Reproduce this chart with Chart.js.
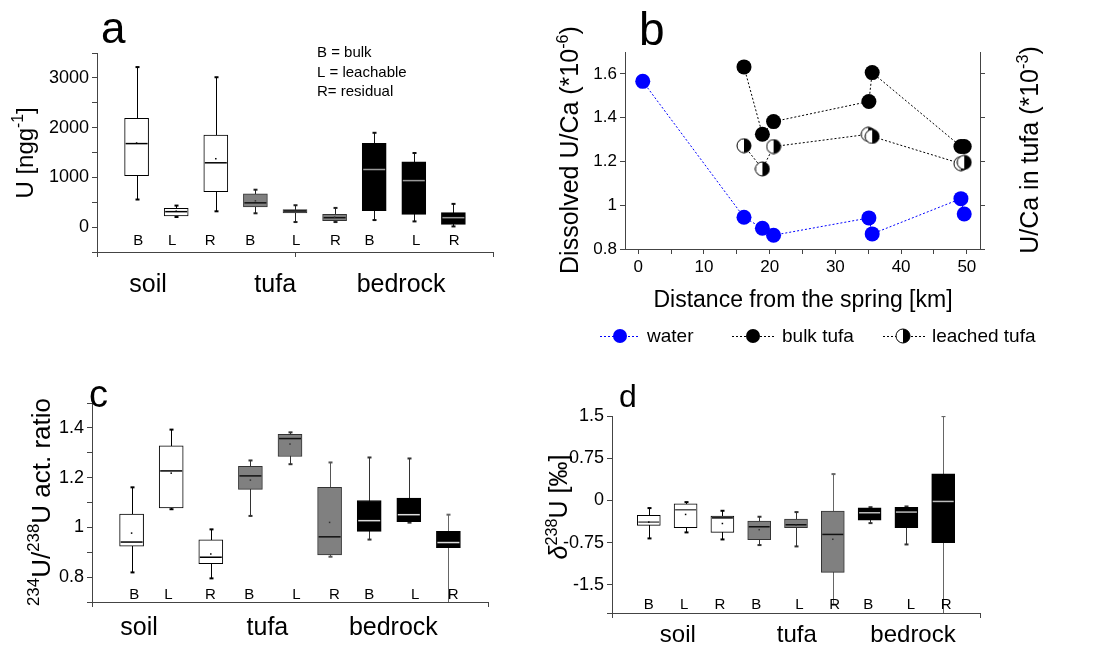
<!DOCTYPE html>
<html><head><meta charset="utf-8">
<script src="https://cdn.jsdelivr.net/npm/chart.js@4.4.1/dist/chart.umd.min.js"></script>
<style>
body{margin:0;background:#fff;width:1102px;height:645px;position:relative;overflow:hidden}
canvas{position:absolute}
</style></head><body>
<canvas id="ca" width="520" height="320" style="left:0px;top:0px"></canvas>
<canvas id="cb" width="582" height="360" style="left:520px;top:0px"></canvas>
<canvas id="cc" width="520" height="285" style="left:0px;top:360px"></canvas>
<canvas id="cd" width="562" height="275" style="left:540px;top:370px"></canvas>
<script>
// ---------------- DATA ----------------
const categories = ['B','L','R','B','L','R','B','L','R'];
const groups = ['soil','tufa','bedrock'];
const boxPos = [1,2,3,4,5,6,7,8,9];

// panel a: U [ng/g]
const aMin  = [555, 203, 318, 278, 102, 102, 142, 115, 14];
const aQ1   = [1036, 223, 711, 406, 284, 129, 332, 257, 54];
const aMed  = [1679, 311, 1293, 488, 325, 190, 1158, 935, 190];
const aQ3   = [2187, 379, 1849, 670, 352, 257, 1686, 1314, 291];
const aMax  = [3217, 433, 3013, 752, 440, 386, 1896, 1490, 467];
const aMean = [1690, 320, 1375, 528, 318, 200, null, null, null];
const aYTicks = [-500, 0, 500, 1000, 1500, 2000, 2500, 3000, 3500];

// panel c: 234U/238U activity ratio
const cMin  = [0.819, 1.073, 0.795, 1.046, 1.254, 0.882, 0.951, 1.019, 0.65];
const cQ1   = [0.924, 1.078, 0.854, 1.153, 1.285, 0.889, 0.984, 1.023, 0.918];
const cMed  = [0.941, 1.227, 0.880, 1.207, 1.357, 0.962, 1.027, 1.051, 0.939];
const cQ3   = [1.053, 1.328, 0.950, 1.245, 1.374, 1.161, 1.108, 1.118, 0.984];
const cMax  = [1.161, 1.393, 0.992, 1.269, 1.382, 1.261, 1.281, 1.277, 1.051];
const cMean = [0.977, 1.218, 0.893, 1.190, 1.335, 1.020, null, null, null];
const cYTicks = [0.7, 0.8, 0.9, 1.0, 1.1, 1.2, 1.3, 1.4, 1.5];

// panel d: delta238U [permil]
const dMin  = [-0.675, -0.568, -0.693, -0.793, -0.817, -1.85, -0.403, -0.782, -2.1];
const dQ1   = [-0.444, -0.486, -0.568, -0.699, -0.486, -1.279, -0.349, -0.486, -0.752];
const dMed  = [-0.385, -0.166, -0.310, -0.468, -0.432, -0.604, -0.219, -0.207, -0.018];
const dQ3   = [-0.266, -0.059, -0.280, -0.367, -0.332, -0.189, -0.130, -0.124, 0.474];
const dMax  = [-0.136, -0.030, -0.184, -0.290, -0.207, 0.468, -0.120, -0.107, 1.498];
const dMean = [-0.385, -0.249, -0.410, -0.520, -0.440, -0.690, null, null, null];
const dYTicks = [-2, -1.875, -1.5, -1.125, -0.75, -0.375, 0, 0.375, 0.75, 1.125, 1.5];

// panel b: U/Ca vs distance
const waterDist = [0.7, 16.1, 18.9, 20.6, 35.1, 35.6, 49.1, 49.6];
const waterUCa  = [1.566, 0.945, 0.895, 0.863, 0.942, 0.869, 1.030, 0.960];
const bulkDist  = [16.1, 18.9, 20.6, 35.1, 35.6, 49.1, 49.6];
const bulkUCa   = [0.366, 0.212, 0.241, 0.287, 0.353, 0.184, 0.184];
const leachDist = [16.1, 18.9, 20.6, 35.0, 35.6, 49.1, 49.6];
const leachUCa  = [0.186, 0.133, 0.184, 0.212, 0.207, 0.145, 0.148];
const bXTicks  = [0, 5, 10, 15, 20, 25, 30, 35, 40, 45, 50];
const bYTicks  = [0.8, 0.9, 1.0, 1.1, 1.2, 1.3, 1.4, 1.5, 1.6, 1.7];
const bY2Ticks = [-0.05, 0, 0.05, 0.1, 0.15, 0.2, 0.25, 0.3, 0.35, 0.4];

// ---------------- STYLE / LAYOUT ----------------
const FONT = "'Liberation Sans', Arial, Helvetica, sans-serif";
Chart.defaults.font.family = FONT;
Chart.defaults.color = '#000';
const AX = '#444';
const boxFill   = ['#fff','#fff','#fff','#808080','#808080','#808080','#000','#000','#000'];
const boxBorder = ['#000','#000','#000','#333','#333','#333','#000','#000','#000'];

function fmt(v){ return String(Math.round(v*1000)/1000); }
function isMajor(v, m){ const r = v/m; return Math.abs(r-Math.round(r)) < 1e-6; }

function drawRich(ctx, runs, x, y, size, rot, align){
  ctx.save(); ctx.translate(x, y); if (rot) ctx.rotate(rot);
  let total = 0;
  const m = runs.map(r => {
    const s = r.sup ? size*0.65 : size;
    const f = (r.italic ? 'italic ' : '') + s + 'px ' + FONT;
    ctx.font = f; const w = ctx.measureText(r.t).width; total += w;
    return {f, w, dy: r.sup ? -size*0.42 : 0};
  });
  let cx = align === 'center' ? -total/2 : (align === 'right' ? -total : 0);
  ctx.textAlign = 'left'; ctx.textBaseline = 'alphabetic'; ctx.fillStyle = '#000';
  runs.forEach((r,i) => { ctx.font = m[i].f; ctx.fillText(r.t, cx, m[i].dy); cx += m[i].w; });
  ctx.restore();
}

function yAxis(ticksArr, major, width, fontSize, min, max){
  return {
    type:'linear', min, max,
    border:{display:true, color:AX, width:1},
    grid:{drawOnChartArea:false, drawTicks:true, tickLength:5, color:AX},
    afterBuildTicks: s => { s.ticks = ticksArr.map(v => ({value:v})); },
    afterFit: s => { s.width = width; },
    ticks:{font:{size:fontSize}, padding:3, color:'#000',
      callback: v => isMajor(v, major) ? fmt(v) : ''}
  };
}
function xAxisBox(height, ticksArr){
  return {
    type:'linear', min:0, max:10, offset:false,
    border:{display:true, color:AX, width:1},
    grid:{drawOnChartArea:false, drawTicks:true, tickLength:5, color:AX, offset:false},
    afterBuildTicks: s => { s.ticks = ticksArr.map(v => ({value:v})); },
    afterFit: s => { s.height = height; },
    ticks:{display:false}
  };
}

function boxPlugin(st){
  return {
    id:'boxwhisk',
    beforeDatasetsDraw(chart){
      const {ctx, chartArea:a, scales:{x, y}} = chart;
      ctx.save(); ctx.beginPath(); ctx.rect(a.left, a.top, a.right-a.left, a.bottom-a.top); ctx.clip();
      boxPos.forEach((p,i) => {
        const px = Math.round(x.getPixelForValue(p)) + 0.5;
        ctx.strokeStyle = st.wh[i]; ctx.lineWidth = 1;
        ctx.beginPath(); ctx.moveTo(px, y.getPixelForValue(st.max[i])); ctx.lineTo(px, y.getPixelForValue(st.min[i])); ctx.stroke();
        ctx.lineWidth = 2;
        [st.max[i], st.min[i]].forEach(v => {
          const py = y.getPixelForValue(v);
          ctx.beginPath(); ctx.moveTo(px-2, py); ctx.lineTo(px+2, py); ctx.stroke();
        });
      });
      ctx.restore();
    },
    afterDatasetsDraw(chart){
      const {ctx, chartArea:a, scales:{x, y}} = chart;
      ctx.save(); ctx.beginPath(); ctx.rect(a.left, a.top, a.right-a.left, a.bottom-a.top); ctx.clip();
      const hw = st.bw/2 - 1;
      boxPos.forEach((p,i) => {
        const px = x.getPixelForValue(p);
        const py = y.getPixelForValue(st.med[i]);
        ctx.strokeStyle = st.medC[i]; ctx.lineWidth = 1.5;
        ctx.beginPath(); ctx.moveTo(px-hw, py); ctx.lineTo(px+hw, py); ctx.stroke();
        if (st.mean[i] !== null) {
          ctx.fillStyle = i < 3 ? '#000' : '#333';
          ctx.fillRect(px-0.75, y.getPixelForValue(st.mean[i])-0.75, 1.5, 1.5);
        }
      });
      ctx.restore();
    }
  };
}

function textPlugin(fn){ return {id:'texts', afterDraw(chart){ const ctx = chart.ctx; ctx.save(); fn(ctx, chart); ctx.restore(); }}; }

function boxDataset(q1, q3, bw){
  return {
    data: boxPos.map((p,i) => ({x:p, y:[q1[i], q3[i]]})),
    backgroundColor: boxFill, borderColor: boxBorder, borderWidth:1, borderSkipped:false,
    barThickness: bw
  };
}

function drawCatLabels(ctx, chart, pos, yBase, groupPos, gBase, gSize){
  const x = chart.scales.x;
  ctx.fillStyle = '#000'; ctx.textAlign = 'center'; ctx.textBaseline = 'alphabetic';
  ctx.font = '15px ' + FONT;
  categories.forEach((c,i) => ctx.fillText(c, x.getPixelForValue(pos[i]), yBase));
  ctx.font = gSize + 'px ' + FONT;
  groups.forEach((g,i) => ctx.fillText(g, x.getPixelForValue(groupPos[i]), gBase));
}

const baseOpts = {responsive:false, animation:false, devicePixelRatio:1,
  plugins:{legend:{display:false}, tooltip:{enabled:false}}};

// ---------------- PANEL A ----------------
new Chart(document.getElementById('ca'), {
  type:'bar',
  data:{datasets:[boxDataset(aQ1, aQ3, 24)]},
  options:Object.assign({}, baseOpts, {
    layout:{padding:{top:53, right:27, left:0, bottom:0}},
    scales:{x:xAxisBox(68, [0,5,10]), y:yAxis(aYTicks, 1000, 97, 18, -500, 3500)}
  }),
  plugins:[
    boxPlugin({min:aMin, max:aMax, med:aMed, mean:aMean, bw:24,
      medC:['#000','#000','#000','#111','#111','#111','#999','#999','#999'],
      wh:['#000','#000','#000','#222','#222','#222','#111','#111','#111']}),
    textPlugin((ctx, chart) => {
      drawCatLabels(ctx, chart, [1.04,1.90,2.86,3.87,5.03,6.02,6.88,8.06,9.02], 245, [1.29,4.5,7.68], 292, 25);
      ctx.textAlign = 'left'; ctx.font = '44px ' + FONT; ctx.fillText('a', 101, 43);
      ctx.font = '15px ' + FONT;
      ctx.fillText('B = bulk', 317, 57); ctx.fillText('L = leachable', 317, 76.5); ctx.fillText('R= residual', 317, 95.5);
      drawRich(ctx, [{t:'U [ngg'},{t:'-1',sup:true},{t:']'}], 33, 153, 24, -Math.PI/2, 'center');
    })
  ]
});

// ---------------- PANEL C ----------------
new Chart(document.getElementById('cc'), {
  type:'bar',
  data:{datasets:[boxDataset(cQ1, cQ3, 24)]},
  options:Object.assign({}, baseOpts, {
    layout:{padding:{top:43, right:32, left:0, bottom:0}},
    scales:{x:xAxisBox(43, [0,10]), y:yAxis(cYTicks, 0.2, 92, 18, 0.7, 1.5)}
  }),
  plugins:[
    boxPlugin({min:cMin, max:cMax, med:cMed, mean:cMean, bw:24,
      medC:['#000','#000','#000','#111','#111','#111','#ddd','#ddd','#ddd'],
      wh:['#000','#000','#000','#333','#333','#555','#333','#333','#666']}),
    textPlugin((ctx, chart) => {
      drawCatLabels(ctx, chart, [1.07,1.93,2.99,3.97,5.16,6.12,7.00,8.16,9.12], 239, [1.19,4.43,7.61], 275, 25);
      ctx.textAlign = 'left'; ctx.font = '38px ' + FONT; ctx.fillText('c', 89, 47);
      drawRich(ctx, [{t:'234',sup:true},{t:'U/'},{t:'238',sup:true},{t:'U act. ratio'}], 50, 142, 26, -Math.PI/2, 'center');
    })
  ]
});

// ---------------- PANEL D ----------------
new Chart(document.getElementById('cd'), {
  type:'bar',
  data:{datasets:[boxDataset(dQ1, dQ3, 23)]},
  options:Object.assign({}, baseOpts, {
    layout:{padding:{top:46, right:122, left:0, bottom:0}},
    scales:{x:xAxisBox(32, [0,10]), y:yAxis(dYTicks, 0.75, 72, 18, -2, 1.5)}
  }),
  plugins:[
    boxPlugin({min:dMin, max:dMax, med:dMed, mean:dMean, bw:23,
      medC:['#555','#555','#000','#111','#111','#111','#bbb','#bbb','#bbb'],
      wh:['#000','#000','#000','#333','#333','#666','#333','#333','#666']}),
    textPlugin((ctx, chart) => {
      drawCatLabels(ctx, chart, [1.0,1.96,2.93,3.92,5.09,6.05,6.96,8.12,9.08], 239, [1.79,5.02,8.18], 272, 24);
      ctx.textAlign = 'left'; ctx.font = '32px ' + FONT; ctx.fillText('d', 79, 37);
      drawRich(ctx, [{t:'\u03B4',italic:true},{t:'238',sup:true},{t:'U [\u2030]'}], 27, 137, 25, -Math.PI/2, 'center');
    })
  ]
});

// ---------------- PANEL B ----------------
const halfMarker = document.createElement('canvas');
halfMarker.width = 16; halfMarker.height = 16;
(function(){
  const c = halfMarker.getContext('2d');
  c.beginPath(); c.arc(8,8,7,0,Math.PI*2); c.fillStyle = '#fff'; c.fill();
  c.beginPath(); c.arc(8,8,7,-Math.PI/2,Math.PI/2); c.closePath(); c.fillStyle = '#000'; c.fill();
  c.beginPath(); c.arc(8,8,7,0,Math.PI*2); c.strokeStyle = '#000'; c.lineWidth = 1; c.stroke();
})();

new Chart(document.getElementById('cb'), {
  type:'scatter',
  data:{datasets:[
    {label:'water', data:waterDist.map((d,i)=>({x:d, y:waterUCa[i]})), yAxisID:'y',
     showLine:true, borderColor:'#0000ff', borderWidth:1, borderDash:[2,2],
     pointRadius:7.5, pointBackgroundColor:'#0000ff', pointBorderColor:'#0000ff', pointBorderWidth:0},
    {label:'bulk tufa', data:bulkDist.map((d,i)=>({x:d, y:bulkUCa[i]})), yAxisID:'y2',
     showLine:true, borderColor:'#000', borderWidth:1, borderDash:[2,2],
     pointRadius:7.5, pointBackgroundColor:'#000', pointBorderColor:'#000', pointBorderWidth:0},
    {label:'leached tufa', data:leachDist.map((d,i)=>({x:d, y:leachUCa[i]})), yAxisID:'y2',
     showLine:true, borderColor:'#000', borderWidth:1, borderDash:[2,2],
     pointStyle:halfMarker, pointRadius:7}
  ]},
  options:Object.assign({}, baseOpts, {
    layout:{padding:{top:52, right:0, left:0, bottom:0}},
    scales:{
      x:{type:'linear', min:-2, max:52,
        border:{display:true, color:AX, width:1},
        grid:{drawOnChartArea:false, drawTicks:true, tickLength:5, color:AX},
        afterBuildTicks: s => { s.ticks = bXTicks.map(v => ({value:v})); },
        afterFit: s => { s.height = 111; },
        ticks:{font:{size:17}, padding:3, maxRotation:0, callback: v => isMajor(v,10) ? fmt(v) : ''}},
      y:Object.assign(yAxis(bYTicks, 0.2, 105, 17, 0.8, 1.7), {position:'left'}),
      y2:Object.assign(yAxis(bY2Ticks, 0.1, 122, 17, -0.05, 0.4), {position:'right'})
    }
  }),
  plugins:[textPlugin((ctx, chart) => {
    ctx.fillStyle = '#000';
    ctx.textAlign = 'left'; ctx.font = '46px ' + FONT; ctx.fillText('b', 119, 45);
    drawRich(ctx, [{t:'Dissolved U/Ca (*10'},{t:'-6',sup:true},{t:')'}], 58, 150, 25, -Math.PI/2, 'center');
    drawRich(ctx, [{t:'U/Ca in tufa (*10'},{t:'-3',sup:true},{t:')'}], 518, 150, 25, -Math.PI/2, 'center');
    drawRich(ctx, [{t:'Distance from the spring [km]'}], 283, 307, 23, 0, 'center');
    // legend
    const ly = 336;
    const items = [
      {x0:80, x1:120, mx:100, tx:127, col:'#0000ff', txt:'water', m:'blue'},
      {x0:212, x1:255, mx:233, tx:262, col:'#000', txt:'bulk tufa', m:'black'},
      {x0:363, x1:407, mx:383, tx:412, col:'#000', txt:'leached tufa', m:'half'}
    ];
    items.forEach(it => {
      ctx.save(); ctx.strokeStyle = it.col; ctx.lineWidth = 1; ctx.setLineDash([2,2]);
      ctx.beginPath(); ctx.moveTo(it.x0, ly+0.5); ctx.lineTo(it.x1, ly+0.5); ctx.stroke(); ctx.restore();
      if (it.m === 'half') { ctx.drawImage(halfMarker, it.mx-8, ly-8); }
      else { ctx.beginPath(); ctx.arc(it.mx, ly, 7, 0, Math.PI*2); ctx.fillStyle = it.col; ctx.fill(); }
      ctx.fillStyle = '#000'; ctx.font = '19px ' + FONT; ctx.textAlign = 'left';
      ctx.fillText(it.txt, it.tx, ly+6);
    });
  })]
});
</script>
</body></html>
